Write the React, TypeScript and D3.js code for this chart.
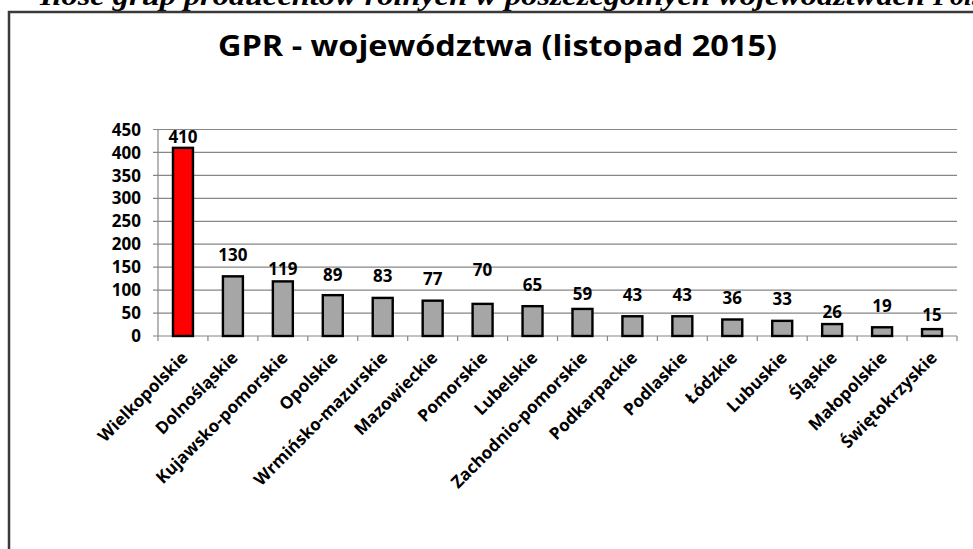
import React from "react";
import * as d3 from "d3";

const categories = [
  "Wielkopolskie", "Dolnośląskie", "Kujawsko-pomorskie", "Opolskie", "Wrmińsko-mazurskie",
  "Mazowieckie", "Pomorskie", "Lubelskie", "Zachodnio-pomorskie", "Podkarpackie",
  "Podlaskie", "Łódzkie", "Lubuskie", "Śląskie", "Małopolskie", "Świętokrzyskie",
];
const values = [410, 130, 119, 89, 83, 77, 70, 65, 59, 43, 43, 36, 33, 26, 19, 15];
const yTicks = [0, 50, 100, 150, 200, 250, 300, 350, 400, 450];
const highlight = ["Wielkopolskie"];
const title = "GPR - województwa (listopad 2015)";
const caption = "Ilość grup producentów rolnych w poszczególnych województwach";

// layout: gap (px) between bar top and its value label baseline (labels were hand-placed in the original)
const labelGap = [5, 15, 6.5, 14.5, 15.5, 15.5, 28, 15.5, 9, 15.5, 15.5, 15.5, 16, 6, 15.5, 8.5];

const W = 973, H = 549;
const plot = { left: 158, right: 957, top: 129.5, bottom: 336 };
const font = "'Open Sans', 'DejaVu Sans', sans-serif";

export default function App() {
  const x = d3.scaleBand<string>().domain(categories).range([plot.left, plot.right]).paddingInner(0.6).paddingOuter(0.3);
  const band = d3.scaleBand<string>().domain(categories).range([plot.left, plot.right]);
  const y = d3.scaleLinear().domain([0, 450]).range([plot.bottom, plot.top]);
  const grid = "#868686";
  const bounds = d3.range(categories.length + 1).map((i) => plot.left + i * band.step());

  return (
    <div style={{ position: "fixed", left: 0, top: 0 }}>
      <svg width={W} height={H} style={{ display: "block", background: "#fff" }}>
        {/* cut-off caption above */}
        <g fontFamily="'Liberation Serif', 'DejaVu Serif', serif" fontWeight="bold" fontStyle="italic" fontSize={28} fill="#000">
          <text x={-14} y={5}>5 –</text>
          <text x={40} y={5} textLength={885} lengthAdjust="spacingAndGlyphs">{caption}</text>
          <text x={933} y={5}>Polski</text>
        </g>
        {/* frame */}
        <path d={`M9,${H + 5} V12 H${W + 5}`} fill="none" stroke="#3a3a3a" strokeWidth={2.5} />
        {/* title */}
        <text x={(218 + 777) / 2} y={56} textAnchor="middle" fontFamily={font} fontWeight="bold" fontSize={28.5}
          textLength={559} lengthAdjust="spacingAndGlyphs" fill="#000">{title}</text>
        {/* gridlines */}
        {yTicks.map((t) => (
          <line key={t} x1={plot.left - 5} x2={plot.right} y1={y(t)} y2={y(t)} stroke={grid} strokeWidth={1.2} />
        ))}
        {/* y axis */}
        <line x1={plot.left} x2={plot.left} y1={plot.top} y2={plot.bottom} stroke={grid} strokeWidth={1.2} />
        {/* x ticks */}
        {bounds.map((bx, i) => (
          <line key={i} x1={bx} x2={bx} y1={plot.bottom} y2={plot.bottom + 5} stroke={grid} strokeWidth={1.2} />
        ))}
        {/* y tick labels */}
        {yTicks.map((t) => (
          <text key={t} x={141} y={y(t)} dy="0.36em" textAnchor="end" fontFamily={font} fontWeight="bold" fontSize={17} fill="#000">{t}</text>
        ))}
        {/* bars */}
        {categories.map((c, i) => (
          <rect key={c} x={x(c)!} y={y(values[i])} width={x.bandwidth()} height={plot.bottom - y(values[i])}
            fill={highlight.includes(c) ? "#ff0000" : "#a6a6a6"} stroke="#000" strokeWidth={2.4} />
        ))}
        {/* value labels */}
        {categories.map((c, i) => (
          <text key={c} x={x(c)! + x.bandwidth() / 2} y={y(values[i]) - labelGap[i]}
            textAnchor="middle" fontFamily={font} fontWeight="bold" fontSize={17} fill="#000">{values[i]}</text>
        ))}
        {/* category labels */}
        {categories.map((c) => {
          const cx = band(c)! + band.step() / 2;
          return (
            <text key={c} transform={`translate(${cx + 6},${plot.bottom + 23}) rotate(-45)`} textAnchor="end"
              fontFamily={font} fontWeight="bold" fontSize={17} fill="#000">{c}</text>
          );
        })}
      </svg>
    </div>
  );
}
